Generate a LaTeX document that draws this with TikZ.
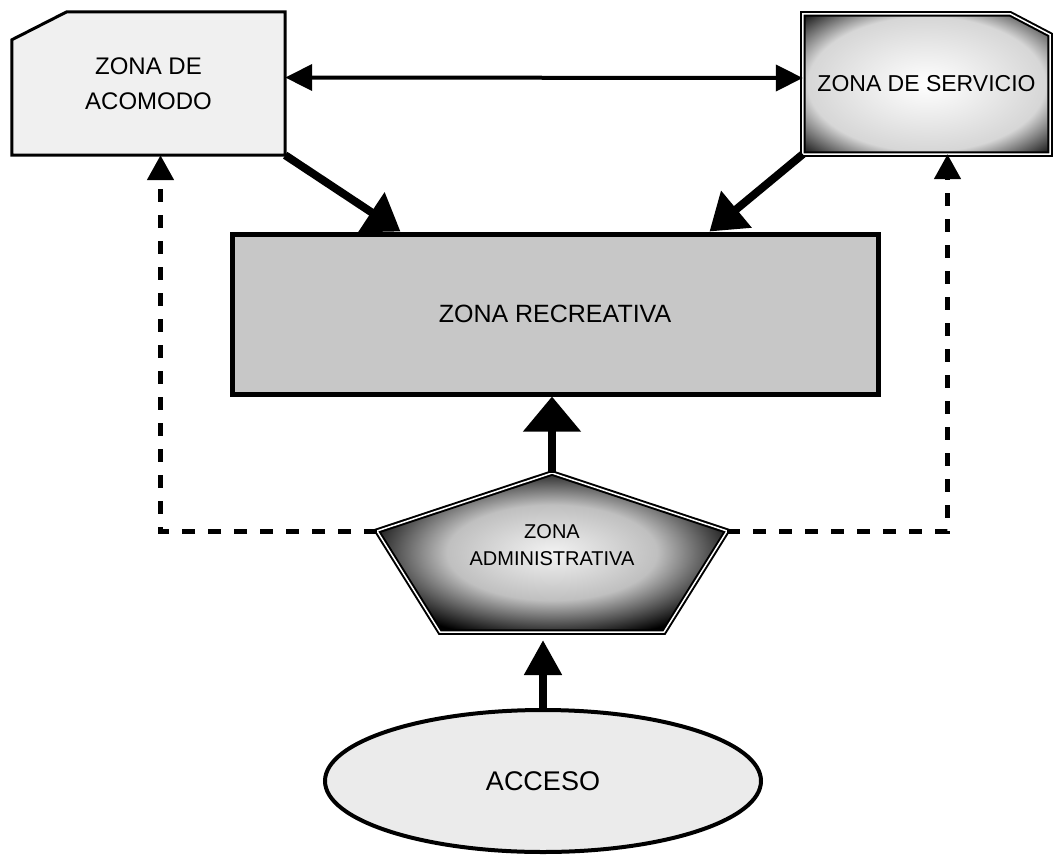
\documentclass[tikz,border=0pt]{standalone}
\usepackage{fontspec}
\setmainfont{Liberation Sans}
\usetikzlibrary{arrows.meta, shapes.geometric, positioning, calc}
\pgfdeclareradialshading{brilloservicio}{\pgfpoint{0bp}{0bp}}{%
  color(0bp)=(white); color(24bp)=(white!84!black);
  color(36bp)=(black); color(50bp)=(black)}
\pgfdeclareradialshading{brilloadmin}{\pgfpoint{0bp}{0bp}}{%
  color(0bp)=(white!95!black); color(15bp)=(white!75!black);
  color(28bp)=(black); color(50bp)=(black)}
\tikzset{zona/.style = {
  % Texto:
  text centered, align=center, inner sep=0pt,
  font=\fontsize{24}{35}\selectfont
  }}
\tikzset{borde/.style = {draw=black, line width=3pt}}
\tikzset{bordedoble/.style = {
  draw=black, line width=2pt,
  double=white, double distance=1.5pt
  }}
\tikzset{flecha/.style = {
  -{Triangle[length=35pt, width=#1]},
  line width=8pt
  }, flecha/.default=46pt}
\tikzset{doble/.style = {
  {Triangle[length=27pt, width=26pt]}-{Triangle[length=27pt, width=26pt]},
  line width=4pt
  }}
\tikzset{punteada/.style = {
  -{Triangle[length=25pt, width=26pt]},
  line width=5pt,
  dash pattern=on 13pt off 13pt
  }}

\begin{document}
\begin{tikzpicture}[x=1pt, y=-1pt]
% LAYERS
\pgfdeclarelayer{bg}
\pgfsetlayers{bg,main}
\useasboundingbox (0,0) rectangle (1057,854);

% NODES
\node (acomodo) [zona, minimum width=273pt, minimum height=143pt] at (148.5,83.5) {ZONA DE\\ACOMODO};
\node (servicio) [zona, minimum width=247pt, minimum height=140pt,
  font=\fontsize{23}{30}\selectfont] at (926.5,84) {ZONA DE SERVICIO};
\node (recreativa) [zona, draw=black, line width=5pt, fill=black!22,
  minimum width=646pt, minimum height=160pt,
  font=\fontsize{25}{30}\selectfont] at (555,314) {ZONA RECREATIVA};
\node (admin) [zona, font=\fontsize{20}{27}\selectfont] at (552,545) {ZONA\\ADMINISTRATIVA};
\node (acceso) [zona, ellipse, draw=black, line width=4pt, fill=black!8,
  minimum width=436pt, minimum height=142pt,
  font=\fontsize{27}{30}\selectfont] at (543,781) {ACCESO};

% pentagon corners
\coordinate (admarriba) at (552,473);
\coordinate (admizq) at (377,531);
\coordinate (admder) at (727,531);
\coordinate (admabajoizq) at (440,632);
\coordinate (admabajoder) at (664,632);

% shapes behind the text
\begin{pgfonlayer}{bg}
\draw[borde, fill=black!6] ([yshift=-28pt]acomodo.north west) -- ([xshift=55pt]acomodo.north west)
  -- (acomodo.north east) -- (acomodo.south east) -- (acomodo.south west) -- cycle;
\shadedraw[shading=brilloservicio, bordedoble] (servicio.north west) -- ([xshift=-40pt]servicio.north east)
  -- ([yshift=-21pt]servicio.north east) -- (servicio.south east) -- (servicio.south west) -- cycle;
\shadedraw[shading=brilloadmin, bordedoble] (admarriba) -- (admder) -- (admabajoder)
  -- (admabajoizq) -- (admizq) -- cycle;
\end{pgfonlayer}

% arrows
\draw [doble] ([yshift=6pt]acomodo.east) -- ([yshift=6pt]servicio.west);

\draw [flecha] (acomodo.south east) -- ([xshift=171pt]recreativa.north west);
\draw [flecha] (servicio.south west) -- ([xshift=-171pt]recreativa.north east);

\draw [flecha=56pt] (admarriba) -- (admarriba |- recreativa.south);
\draw [flecha=36pt, shorten >=8pt] (acceso.north) -- (acceso.north |- admabajoizq);

\draw [punteada] (admizq) -| ([xshift=12pt]acomodo.south);
\draw [punteada] (admder) -| ([xshift=21pt]servicio.south);
\end{tikzpicture}
\end{document}
